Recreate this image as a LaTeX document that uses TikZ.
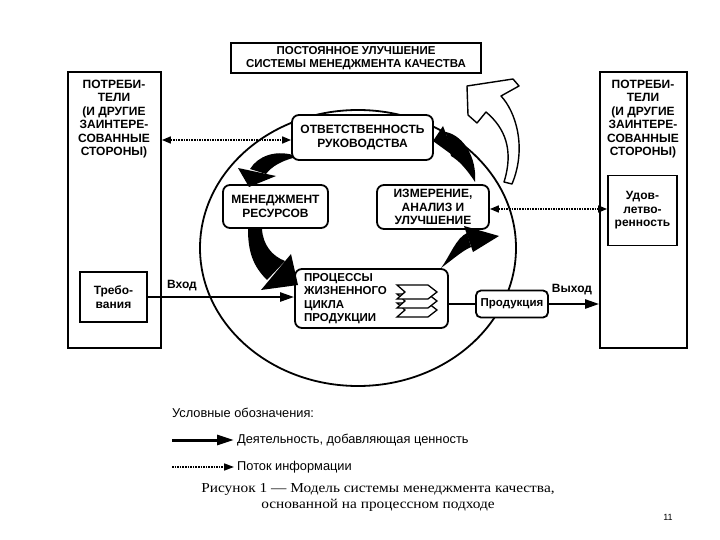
\documentclass[tikz,border=0pt]{standalone}
\usepackage{fontspec}
\setmainfont{Liberation Sans}
\newfontfamily\capfont[FakeStretch=1.12]{Liberation Serif}
\usetikzlibrary{arrows.meta,shapes.geometric}
\begin{document}
\begin{tikzpicture}[x=1pt,y=-1pt,
  bigbox/.style={draw, line width=1.8pt, inner sep=0pt},
  rbox/.style={draw, line width=1.8pt, rounded corners=7pt, fill=white, inner sep=0pt},
  lab/.style={font=\bfseries\fontsize{12}{13.5}\selectfont, align=center, inner sep=0pt},
  labs/.style={font=\bfseries\fontsize{11.5}{13.5}\selectfont, align=center, inner sep=0pt},
  small/.style={font=\bfseries\fontsize{12}{13.5}\selectfont, align=center, inner sep=0pt},
  legtxt/.style={font=\fontsize{12.8}{14}\selectfont, inner sep=0pt, anchor=west},
  solidarr/.style={line width=2.4pt, -{Triangle[length=14pt,width=9pt]}},
  dotarr/.style={line width=1.6pt, densely dotted, {Triangle[length=9pt,width=7pt]}-{Triangle[length=9pt,width=7pt]}},
  fatarr/.style={fill=black},
  outarr/.style={draw, line width=1.4pt, fill=white, line join=round},
]
\useasboundingbox (0,0) rectangle (720,540);

% top box
\node[bigbox, line width=2.2pt, minimum width=250pt, minimum height=30pt] (top) at (356,58) {};
\node[labs] (toptxt) at (356,58) {ПОСТОЯННОЕ УЛУЧШЕНИЕ\\СИСТЕМЫ МЕНЕДЖМЕНТА КАЧЕСТВА};

% left box
\node[bigbox, minimum width=93pt, minimum height=276pt] (lbox) at (114.5,210) {};
\node[lab] (ltxt) at (114,119) {ПОТРЕБИ-\\ТЕЛИ\\(И ДРУГИЕ\\ЗАИНТЕРЕ-\\СОВАННЫЕ\\СТОРОНЫ)};
\node[bigbox, minimum width=67pt, minimum height=50pt, small] (treb) at (113.5,297) {Требо-\\вания};

% right box
\node[bigbox, minimum width=87pt, minimum height=276pt] (rbox) at (643.5,210) {};
\node[lab] (rtxt) at (643,119) {ПОТРЕБИ-\\ТЕЛИ\\(И ДРУГИЕ\\ЗАИНТЕРЕ-\\СОВАННЫЕ\\СТОРОНЫ)};
\node[bigbox, minimum width=69pt, minimum height=70pt, small] (udov) at (642.5,210.5) {Удов-\\летво-\\ренность};

% outlined arrow to top box (behind ellipse)
\path[outarr] (467,86) -- (513,79) -- (519,86) -- (501,96)
  .. controls (516,112) and (527,148) .. (512,184) -- (504,182)
  .. controls (514,150) and (505,128) .. (486,112)
  -- (477,123) -- (468,115) -- cycle;

% circle
\node[draw, line width=1.8pt, ellipse, inner sep=0pt, minimum width=316pt, minimum height=276pt] (circ) at (358,248) {};

% inner boxes
\node[rbox, minimum width=141pt, minimum height=45pt, lab] (otv) at (362.5,137.5) {ОТВЕТСТВЕННОСТЬ\\РУКОВОДСТВА};
\node[rbox, minimum width=105pt, minimum height=43pt, lab] (men) at (275.5,206.5) {МЕНЕДЖМЕНТ\\РЕСУРСОВ};
\node[rbox, minimum width=112pt, minimum height=44pt, lab] (izm) at (433,207) {ИЗМЕРЕНИЕ,\\АНАЛИЗ И\\УЛУЧШЕНИЕ};
\node[rbox, minimum width=153pt, minimum height=59pt] (proc) at (371.5,298.5) {};
\node[labs, align=left, anchor=west] (proctxt) at (304,298.5) {ПРОЦЕССЫ\\ЖИЗНЕННОГО\\ЦИКЛА\\ПРОДУКЦИИ};
\node[rbox, rounded corners=5pt, minimum width=72pt, minimum height=27pt, labs] (prod) at (512,304) {Продукция};

% chevrons icon
\foreach \t in {303,294,285}{
  \filldraw[fill=white, line width=1.3pt, line join=miter]
    (397,\t) -- (428,\t) -- (437,\t+7) -- (428,\t+14) -- (397,\t+14) -- (405,\t+7) -- cycle;
}

% fat arrows
% responsibility -> resources
\fill[fatarr] (293,155) .. controls (275,150) and (258,156) .. (250,169) -- (266,174)
  .. controls (272,166) and (282,161) .. (293,158) -- cycle;
\fill[fatarr] (238,168) -- (276,176) -- (249,187) -- cycle;
% resources -> processes
\fill[fatarr] (248,229) .. controls (248,252) and (253,266) .. (267,280) -- (285,261)
  .. controls (272,256) and (263,245) .. (262,229) -- cycle;
\fill[fatarr] (261,290) -- (291,254) -- (298,285) -- cycle;
% processes -> measurement
\fill[fatarr] (441,268) .. controls (450,256) and (456,238) .. (467,233) -- (471,247)
  .. controls (462,251) and (452,260) .. (441,268) -- cycle;
\fill[fatarr] (464,226) -- (473,252) -- (499,236) -- cycle;
% measurement -> responsibility
\fill[fatarr] (446,132) .. controls (464,136) and (477,158) .. (475,182)
  .. controls (466,168) and (458,160) .. (451,156) -- cycle;
\fill[fatarr] (443,126) -- (455,157) -- (433,141) -- cycle;

% connectors
\draw[solidarr] (treb.east) -- (treb.east -| proc.west);
\node[small] (vhod) at (182,286) {Вход};
\draw[line width=2.2pt] (proc.east |- prod.west) -- (prod.west);
\draw[solidarr] (prod.east) -- (prod.east -| rbox.west);
\node[small] (vyhod) at (572,290) {Выход};
\draw[dotarr] (lbox.east |- 0,140) -- (otv.west |- 0,140);
\draw[dotarr] (izm.east |- 0,209) -- (udov.west |- 0,209);

% legend
\node[legtxt] (legt) at (172,413) {Условные обозначения:};
\coordinate (l1a) at (172,440); \coordinate (l1b) at (234,440);
\draw[line width=3pt, -{Triangle[length=17pt,width=10pt]}] (l1a) -- (l1b);
\node[legtxt] (leg1) at (237,440) {Деятельность, добавляющая ценность};
\coordinate (l2a) at (172,467); \coordinate (l2b) at (234,467);
\draw[line width=1.6pt, densely dotted, -{Triangle[length=10pt,width=7pt]}] (l2a) -- (l2b);
\node[legtxt] (leg2) at (237,467) {Поток информации};

% caption
\node[font=\capfont\fontsize{13.7}{16}\selectfont, align=center, inner sep=0pt] (cap) at (378,497)
  {Рисунок 1 — Модель системы менеджмента качества,\\основанной на процессном подходе};
\node[font=\fontsize{9}{10}\selectfont, inner sep=0pt] (pg) at (668,517) {11};
\end{tikzpicture}
\end{document}
